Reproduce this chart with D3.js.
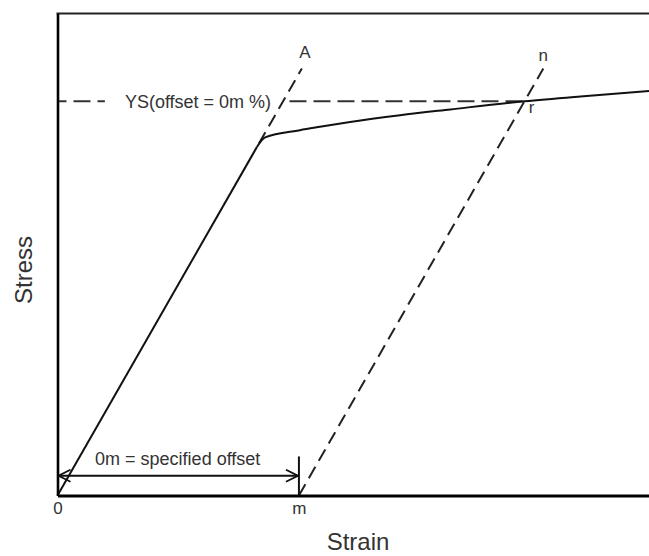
<!DOCTYPE html>
<html>
<head>
<meta charset="utf-8">
<script src="https://cdn.jsdelivr.net/npm/d3@7"></script>
<style>
  html, body { margin: 0; padding: 0; background: #fff; }
  svg { display: block; }
  text { font-family: "Liberation Sans", Arial, Helvetica, sans-serif; fill: #333; }
</style>
</head>
<body>
<svg id="chart" width="649" height="556"></svg>
<script>
// ---- data (strain in units of the offset "0m", stress in arbitrary units) ----
const tickValues = [0, 1];
const tickLabels = ["0", "m"];
const elasticStrain = [0, 0.826];
const elasticStress = [0, 72.3];
const curveStrain = [0.826, 0.86, 1.004, 1.087, 1.212, 1.419, 1.627, 1.935, 2.166, 2.45];
const curveStress = [72.3, 74.3, 75.8, 76.5, 77.5, 78.9, 80.1, 81.8, 82.8, 83.9];
const offsetStrain = 1;          // point m
const yieldStress = 81.8;        // YS at intersection r
const constructionTop = 88.6;    // where the dashed construction lines end
const offsetArrowStress = 4.1;
const offsetTickTop = 8.1;
const labels = {
  ys: "YS(offset = 0m %)",
  offset: "0m = specified offset",
  a: "A", n: "n", r: "r",
  x: "Strain", y: "Stress"
};

// ---- layout ----
const svg = d3.select("#chart");
const x = d3.scaleLinear().domain([0, 2.45]).range([57.5, 649]);
const y = d3.scaleLinear().domain([0, 100]).range([495.5, 13.5]);

const E = elasticStress[1] / elasticStrain[1];
const line = d3.line().x(d => x(d[0])).y(d => y(d[1]));

// defs: open arrowheads
const defs = svg.append("defs");
defs.append("marker").attr("id", "arrowEnd")
  .attr("viewBox", "0 0 14 14").attr("refX", 13).attr("refY", 7)
  .attr("markerWidth", 14).attr("markerHeight", 14)
  .attr("markerUnits", "userSpaceOnUse").attr("orient", "auto")
  .append("path").attr("d", "M1,1 L13,7 L1,13")
  .attr("fill", "none").attr("stroke", "#111").attr("stroke-width", 1.8);
defs.append("marker").attr("id", "arrowStart")
  .attr("viewBox", "0 0 14 14").attr("refX", 1).attr("refY", 7)
  .attr("markerWidth", 14).attr("markerHeight", 14)
  .attr("markerUnits", "userSpaceOnUse").attr("orient", "auto")
  .append("path").attr("d", "M13,1 L1,7 L13,13")
  .attr("fill", "none").attr("stroke", "#111").attr("stroke-width", 1.8);

// top border
svg.append("line")
  .attr("x1", x(0) - 1).attr("x2", x(2.45))
  .attr("y1", y(100)).attr("y2", y(100))
  .attr("stroke", "#222").attr("stroke-width", 2);

// YS horizontal dashed line
svg.append("path")
  .attr("d", line([[0, yieldStress], [offsetStrain + yieldStress / E, yieldStress]]))
  .attr("fill", "none").attr("stroke", "#333").attr("stroke-width", 2)
  .attr("stroke-dasharray", "17,7").attr("stroke-dashoffset", 8);

// label with white background
const ysText = svg.append("text")
  .attr("x", 198).attr("y", y(yieldStress) + 7)
  .attr("text-anchor", "middle").attr("font-size", 18)
  .text(labels.ys);
const bb = ysText.node().getBBox();
svg.insert("rect", "text")
  .attr("x", bb.x - 20).attr("y", bb.y - 2)
  .attr("width", bb.width + 32).attr("height", bb.height + 4)
  .attr("fill", "#fff");

// elastic extension (A line), dashed
svg.append("path")
  .attr("d", line([[elasticStrain[1], elasticStress[1]], [constructionTop / E, constructionTop]]))
  .attr("fill", "none").attr("stroke", "#222").attr("stroke-width", 2)
  .attr("stroke-dasharray", "13,7").attr("stroke-dashoffset", -4);

// offset line from m (dashed)
svg.append("path")
  .attr("d", line([[offsetStrain, 0], [offsetStrain + constructionTop / E, constructionTop]]))
  .attr("fill", "none").attr("stroke", "#222").attr("stroke-width", 2)
  .attr("stroke-dasharray", "13,7");

// elastic line
svg.append("path")
  .attr("d", line(elasticStrain.map((s, i) => [s, elasticStress[i]])))
  .attr("fill", "none").attr("stroke", "#111").attr("stroke-width", 2);

// plastic curve
svg.append("path")
  .attr("d", d3.line().x(d => x(d[0])).y(d => y(d[1])).curve(d3.curveMonotoneX)(
    curveStrain.map((s, i) => [s, curveStress[i]])))
  .attr("fill", "none").attr("stroke", "#111").attr("stroke-width", 2);

// axes
const xAxis = d3.axisBottom(x).tickValues(tickValues)
  .tickFormat((d, i) => tickLabels[i]).tickSize(0).tickPadding(6).tickSizeOuter(0);
const gx = svg.append("g").attr("transform", `translate(0,${y(0)})`).call(xAxis);
gx.select(".domain").attr("stroke", "#000").attr("stroke-width", 3);
gx.selectAll(".tick text").attr("font-size", 17).attr("fill", "#444")
  .attr("font-family", '"Liberation Sans", Arial, sans-serif');

const yAxis = d3.axisLeft(y).tickValues([]).tickSize(0).tickSizeOuter(0);
const gy = svg.append("g").attr("transform", `translate(${x(0)},0)`).call(yAxis);
gy.select(".domain").attr("stroke", "#000").attr("stroke-width", 2.6);

// offset arrow and tick at m
svg.append("line")
  .attr("x1", x(offsetStrain)).attr("x2", x(offsetStrain))
  .attr("y1", y(0)).attr("y2", y(offsetTickTop))
  .attr("stroke", "#111").attr("stroke-width", 2);
svg.append("line")
  .attr("x1", x(0) + 1).attr("x2", x(offsetStrain) - 1)
  .attr("y1", y(offsetArrowStress)).attr("y2", y(offsetArrowStress))
  .attr("stroke", "#111").attr("stroke-width", 2.2)
  .attr("marker-start", "url(#arrowStart)").attr("marker-end", "url(#arrowEnd)");
svg.append("text")
  .attr("x", (x(0) + x(offsetStrain)) / 2 - 0.5).attr("y", y(offsetArrowStress) - 11)
  .attr("text-anchor", "middle").attr("font-size", 18)
  .text(labels.offset);

// point labels
svg.append("text")
  .attr("x", x(constructionTop / E) + 3).attr("y", y(constructionTop) - 10)
  .attr("text-anchor", "middle").attr("font-size", 17).text(labels.a);
svg.append("text")
  .attr("x", x(offsetStrain + constructionTop / E) + 0).attr("y", y(constructionTop) - 7)
  .attr("text-anchor", "middle").attr("font-size", 17).text(labels.n);
svg.append("text")
  .attr("x", x(offsetStrain + yieldStress / E) + 7).attr("y", y(yieldStress) + 12)
  .attr("text-anchor", "middle").attr("font-size", 17).text(labels.r);

// axis titles
svg.append("text")
  .attr("x", 358).attr("y", 550)
  .attr("text-anchor", "middle").attr("font-size", 24).text(labels.x);
svg.append("text")
  .attr("transform", "translate(31.5,270) rotate(-90)")
  .attr("text-anchor", "middle").attr("font-size", 24).text(labels.y);
</script>
</body>
</html>
